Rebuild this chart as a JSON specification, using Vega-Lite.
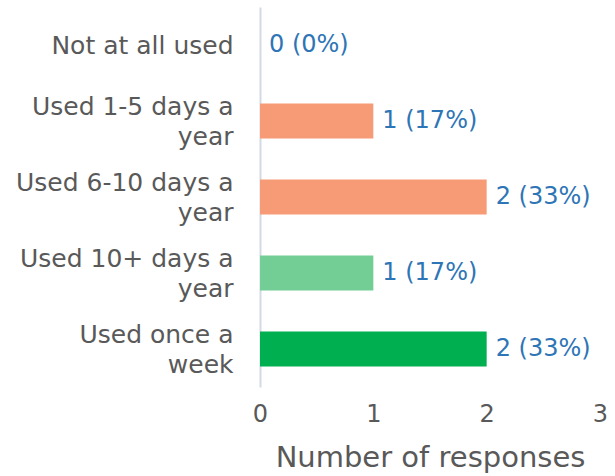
{
  "$schema": "https://vega.github.io/schema/vega-lite/v6.json",
  "width": 340,
  "height": 380,
  "autosize": {"type": "none"},
  "padding": {"left": 260, "top": 7, "right": 15, "bottom": 89},
  "background": "white",
  "config": {"view": {"stroke": null}, "font": "DejaVu Sans"},
  "data": {
    "values": [
      {"category": "Not at all used", "count": 0, "label": "0 (0%)", "group": "a"},
      {"category": "Used 1-5 days a year", "count": 1, "label": "1 (17%)", "group": "b"},
      {"category": "Used 6-10 days a year", "count": 2, "label": "2 (33%)", "group": "b"},
      {"category": "Used 10+ days a year", "count": 1, "label": "1 (17%)", "group": "c"},
      {"category": "Used once a week", "count": 2, "label": "2 (33%)", "group": "d"}
    ]
  },
  "encoding": {
    "y": {
      "field": "category",
      "type": "nominal",
      "sort": null,
      "scale": {"paddingInner": 0.54, "paddingOuter": 0.27},
      "axis": {
        "title": null,
        "ticks": false,
        "domainColor": "#d3dae6",
        "domainWidth": 2,
        "labelFontSize": 25,
        "labelColor": "#595959",
        "labelPadding": 27,
        "labelLineHeight": 30,
        "labelLimit": 260,
        "labelOffset": {"condition": {"test": "datum.value != 'Not at all used'", "value": -14}, "value": 1},
        "labelExpr": "length(datum.label) > 15 ? [substring(datum.label, 0, lastindexof(datum.label, ' ')), substring(datum.label, lastindexof(datum.label, ' ') + 1)] : datum.label"
      }
    },
    "x": {
      "field": "count",
      "type": "quantitative",
      "scale": {"domain": [0, 3], "nice": false},
      "axis": {
        "values": [0, 1, 2, 3],
        "grid": false,
        "domain": false,
        "ticks": false,
        "labelFontSize": 24,
        "labelColor": "#595959",
        "labelPadding": 15,
        "labelFlush": false,
        "title": "Number of responses",
        "titleFontSize": 29,
        "titleFontWeight": "normal",
        "titleColor": "#595959",
        "titlePadding": 17
      }
    }
  },
  "layer": [
    {
      "mark": {"type": "bar"},
      "encoding": {
        "color": {
          "field": "group",
          "type": "nominal",
          "scale": {"domain": ["a", "b", "c", "d"], "range": ["#f79a76", "#f79a76", "#72ce94", "#00b050"]},
          "legend": null
        }
      }
    },
    {
      "mark": {"type": "text", "align": "left", "baseline": "middle", "dx": 9, "fontSize": 24, "color": "#2e75b6"},
      "encoding": {"text": {"field": "label"}}
    }
  ]
}
